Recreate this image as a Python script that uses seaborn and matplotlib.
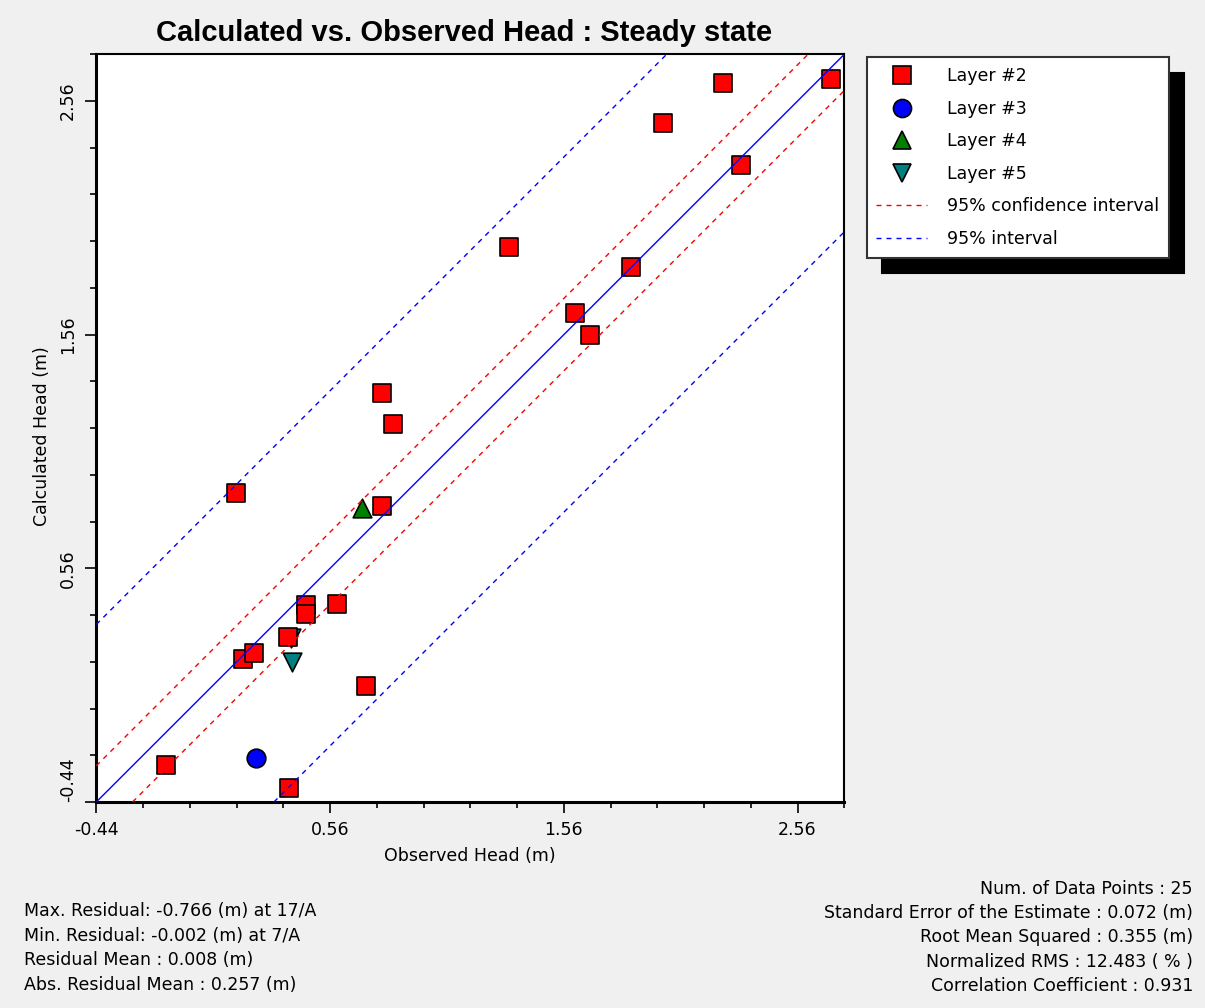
import matplotlib.pyplot as plt
import seaborn as sns
import pandas as pd
import numpy as np
from matplotlib.lines import Line2D
from matplotlib.ticker import FixedLocator

# -------------------------------
# DATA (observed vs calculated head, m)
# -------------------------------

layer2_obs = [2.701, 2.242, 1.985, 2.320, 1.325, 1.847, 1.607, 1.672, 0.783, 0.830,
              0.158, 0.783, 0.456, 0.456, 0.588, 0.379, 0.189, 0.236, 0.712, -0.143, 0.384]
layer2_calc = [2.655, 2.638, 2.467, 2.288, 1.937, 1.851, 1.654, 1.560, 1.310, 1.179,
               0.883, 0.828, 0.404, 0.366, 0.407, 0.265, 0.171, 0.197, 0.057, -0.282, -0.381]

layer3_obs = [0.242]
layer3_calc = [-0.253]

layer4_obs = [0.698]
layer4_calc = [0.818]

layer5_obs = [0.398, 0.394]
layer5_calc = [0.158, 0.264]

conf_offset = 0.155   # 95% confidence interval
pred_offset = 0.76    # 95% interval

tick_values = [-0.44, 0.56, 1.56, 2.56]
tick_labels = ['-0.44', '0.56', '1.56', '2.56']
axis_min, axis_max = -0.44, 2.76

left_stats = [
    'Max. Residual: -0.766 (m) at 17/A',
    'Min. Residual: -0.002 (m) at 7/A',
    'Residual Mean : 0.008 (m)',
    'Abs. Residual Mean : 0.257 (m)',
]
right_stats = [
    'Num. of Data Points : 25',
    'Standard Error of the Estimate : 0.072 (m)',
    'Root Mean Squared : 0.355 (m)',
    'Normalized RMS : 12.483 ( % )',
    'Correlation Coefficient : 0.931',
]

# -------------------------------
# PLOT
# -------------------------------

sns.set_style('ticks')
plt.rcParams['font.family'] = ['DejaVu Sans']
plt.rcParams['font.size'] = 12.5
for key in ('text.color', 'axes.labelcolor', 'xtick.color', 'ytick.color'):
    plt.rcParams[key] = 'black'

W, H = 1205, 1008
fig = plt.figure(figsize=(W / 100, H / 100), dpi=100, facecolor='#f0f0f0')
ax = fig.add_axes([96.3 / W, 1 - 802 / H, 748 / W, 747.7 / H])
ax.set_facecolor('white')

layers = [
    ('Layer #5', layer5_obs, layer5_calc, 'v', '#008080'),
    ('Layer #4', layer4_obs, layer4_calc, '^', '#008000'),
    ('Layer #3', layer3_obs, layer3_calc, 'o', '#0000ff'),
    ('Layer #2', layer2_obs, layer2_calc, 's', '#ff0000'),
]

for name, obs, calc, marker, color in layers:
    df = pd.DataFrame({'observed': obs, 'calculated': calc})
    sns.scatterplot(data=df, x='observed', y='calculated', marker=marker,
                    color=color, s=180, edgecolor='black', linewidth=1.2,
                    ax=ax, legend=False, zorder=2)

dash = (0, (3.6, 3.6))
ax.axline((0, 0), slope=1, color='blue', lw=1.0, zorder=3)
for off in (conf_offset, -conf_offset):
    ax.axline((0, off), slope=1, color='red', lw=1.0, ls=dash, zorder=3)
for off in (pred_offset, -pred_offset):
    ax.axline((0, off), slope=1, color='blue', lw=1.0, ls=dash, zorder=3)

ax.set_xlim(axis_min, axis_max)
ax.set_ylim(axis_min, axis_max)

minor = np.arange(axis_min, axis_max + 0.01, 0.2)
for axis in (ax.xaxis, ax.yaxis):
    axis.set_major_locator(FixedLocator(tick_values))
    axis.set_minor_locator(FixedLocator(minor))
ax.set_xticklabels(tick_labels)
ax.set_yticklabels(tick_labels, rotation=90, va='center')
ax.get_yticklabels()[0].set_va('bottom')

ax.tick_params(which='major', length=8, width=1.2, direction='out', pad=6, colors='black')
ax.tick_params(which='minor', length=4.5, width=1.2, direction='out')

for side in ('left', 'bottom'):
    ax.spines[side].set_linewidth(2.2)
for side in ('top', 'right'):
    ax.spines[side].set_linewidth(1.5)
for s in ax.spines.values():
    s.set_color('black')

ax.set_xlabel('Observed Head (m)', va='center')
ax.xaxis.set_label_coords(0.5, -0.072)
ax.set_ylabel('Calculated Head (m)', va='center')
ax.yaxis.set_label_coords(-0.0726, 0.49)

fig.text(464 / W, 1 - 33 / H, 'Calculated vs. Observed Head : Steady state',
         ha='center', va='center', fontsize=21, fontweight='bold',
         family=['Liberation Sans', 'DejaVu Sans'])

# legend
mk = dict(ls='none', ms=13, mec='black', mew=1.2)
legend_handles = [
    Line2D([], [], marker='s', mfc='#ff0000', **mk),
    Line2D([], [], marker='o', mfc='#0000ff', **mk),
    Line2D([], [], marker='^', mfc='#008000', **mk),
    Line2D([], [], marker='v', mfc='#008080', **mk),
    Line2D([], [], color='red', lw=1.0, ls=dash),
    Line2D([], [], color='blue', lw=1.0, ls=dash),
]
legend_labels = ['Layer #2', 'Layer #3', 'Layer #4', 'Layer #5',
                 '95% confidence interval', '95% interval']
leg = fig.legend(legend_handles, legend_labels, loc='upper left',
                 bbox_to_anchor=(866.7 / W, 1 - 57.3 / H), borderaxespad=0,
                 frameon=True, fancybox=False, framealpha=1,
                 edgecolor='#333333', facecolor='white',
                 shadow={'color': 'black', 'alpha': 1, 'ox': 11, 'oy': -11},
                 borderpad=0.56, labelspacing=0.84, handlelength=2.9,
                 handletextpad=1.15)
leg.get_frame().set_linewidth(1.5)

# statistics
for i, txt in enumerate(left_stats):
    fig.text(24 / W, 1 - (911 + i * 24.6) / H, txt, ha='left', va='center')
for i, txt in enumerate(right_stats):
    fig.text(1193 / W, 1 - (888.5 + i * 24.4) / H, txt, ha='right', va='center')

fig.savefig('out.png', dpi=100, facecolor=fig.get_facecolor())
